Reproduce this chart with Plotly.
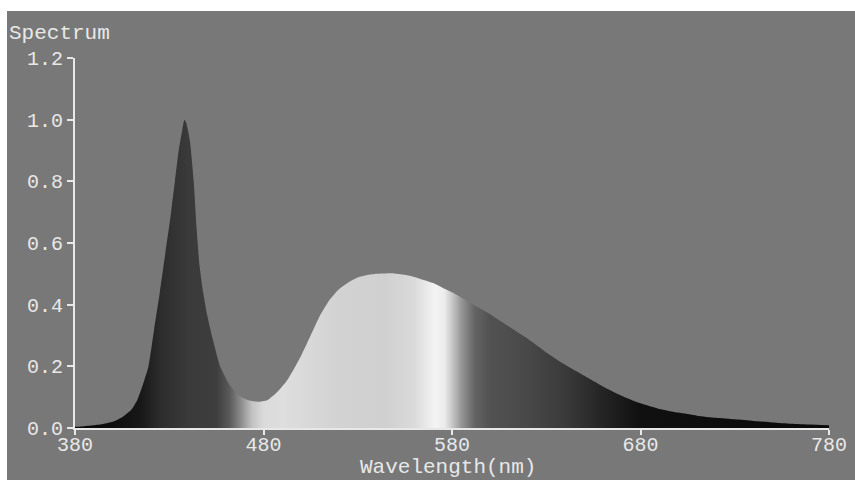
import plotly.graph_objects as go

# ---- data ----
wavelength_nm = [380, 385, 390, 395, 400, 405, 410, 413, 416, 419, 422, 425, 428, 431,
                 433, 435, 437, 438, 439, 441, 443, 444.5, 446, 448, 450, 453, 457, 462, 467,
                 472, 477, 482, 487, 492, 496, 500, 505, 510, 515, 520, 525, 530, 535,
                 540, 548, 555, 560, 565, 570, 575, 580, 590, 600, 610, 620, 630, 640,
                 650, 660, 670, 680, 690, 700, 710, 720, 730, 740, 750, 760, 770, 780]
spectrum = [0.004, 0.006, 0.009, 0.013, 0.02, 0.035, 0.06, 0.09, 0.14, 0.2, 0.32, 0.44, 0.57, 0.70,
            0.8, 0.9, 0.97, 1.0, 0.99, 0.93, 0.8, 0.65, 0.53, 0.44, 0.37, 0.29, 0.2, 0.14, 0.105,
            0.09, 0.085, 0.09, 0.115, 0.15, 0.19, 0.235, 0.30, 0.365, 0.415, 0.45, 0.472, 0.488, 0.496,
            0.5, 0.502, 0.497, 0.49, 0.48, 0.47, 0.455, 0.44, 0.405, 0.37, 0.33, 0.29, 0.245, 0.205,
            0.17, 0.135, 0.105, 0.08, 0.062, 0.05, 0.04, 0.033, 0.028, 0.023, 0.018, 0.014, 0.011, 0.009]
x_ticks = [380, 480, 580, 680, 780]
y_ticks = [0.0, 0.2, 0.4, 0.6, 0.8, 1.0, 1.2]
y_tick_labels = ["0.0", "0.2", "0.4", "0.6", "0.8", "1.0", "1.2"]

# ---- style: grayscale rendering of the visible spectrum ----
grad_nm = [380, 400, 415, 425, 440, 455, 462, 468, 474, 480, 490, 520, 545, 560, 566,
           571, 576, 580, 585, 592, 600, 620, 640, 660, 680, 780]
grad_gray = [10, 14, 24, 44, 58, 62, 90, 140, 195, 218, 222, 210, 208, 218, 232,
             244, 236, 200, 150, 100, 82, 72, 58, 36, 16, 10]
colorscale = [[(w - 380) / 400, f"rgb({g},{g},{g})"] for w, g in zip(grad_nm, grad_gray)]

BG = "#787878"
FG = "#e8e8e8"
FONT = "Courier New, Liberation Mono, monospace"

fig = go.Figure()
fig.add_trace(go.Scatter(
    x=wavelength_nm, y=spectrum, mode="lines", line=dict(width=0, shape="spline", smoothing=0.5),
    fill="tozeroy",
    fillgradient=dict(type="horizontal", colorscale=colorscale, start=380, stop=780),
    hoverinfo="skip", showlegend=False,
))

W, H = 855, 480
ml, mr, mt, mb = 75, 26, 58, 52
pw, ph = W - ml - mr, H - mt - mb

fig.update_layout(
    template="none",
    width=W, height=H,
    margin=dict(l=ml, r=mr, t=mt, b=mb, pad=0, autoexpand=False),
    paper_bgcolor=BG, plot_bgcolor=BG,
    font=dict(family=FONT, color=FG, size=20),
    xaxis=dict(range=[380, 780], tickvals=x_ticks, ticktext=[str(v) for v in x_ticks],
               automargin=False, showgrid=False, zeroline=False, showline=True,
               linecolor=FG, linewidth=2,
               ticks="outside", ticklen=5, tickwidth=2, tickcolor=FG, ticklabelstandoff=-8,
               tickfont=dict(size=20, color=FG, family=FONT)),
    yaxis=dict(range=[0, 1.2], tickvals=y_ticks, ticktext=y_tick_labels,
               automargin=False, showgrid=False, zeroline=False, showline=True,
               linecolor=FG, linewidth=2,
               ticks="outside", ticklen=6, tickwidth=2, tickcolor=FG,
               tickfont=dict(size=20, color=FG, family=FONT)),
    shapes=[
        dict(type="rect", xref="paper", yref="paper", layer="above",
             x0=-ml / pw - 0.01, x1=1 + mr / pw + 0.01,
             y0=1 + (mt - 11) / ph, y1=1 + mt / ph + 0.01,
             fillcolor="white", line=dict(width=0)),
        dict(type="rect", xref="paper", yref="paper", layer="above",
             x0=-ml / pw - 0.01, x1=-(ml - 7) / pw,
             y0=-mb / ph - 0.01, y1=1 + mt / ph + 0.01,
             fillcolor="white", line=dict(width=0)),
    ],
    annotations=[
        dict(text="Spectrum", xref="paper", yref="paper",
             x=-(ml - 7) / pw, y=1 + (mt - 33) / ph, xanchor="left", yanchor="middle",
             showarrow=False, font=dict(size=21, color=FG, family=FONT)),
        dict(text="Wavelength(nm)", xref="paper", yref="paper",
             x=(448 - ml) / pw, y=-(467 - (H - mb)) / ph, xanchor="center", yanchor="middle",
             showarrow=False, font=dict(size=21, color=FG, family=FONT)),
    ],
)

fig.write_html(
    "out.html",
    config={"displayModeBar": False},
    post_script="document.body.style.margin='0';document.body.style.overflow='hidden';"
                "document.documentElement.style.overflow='hidden';",
)
